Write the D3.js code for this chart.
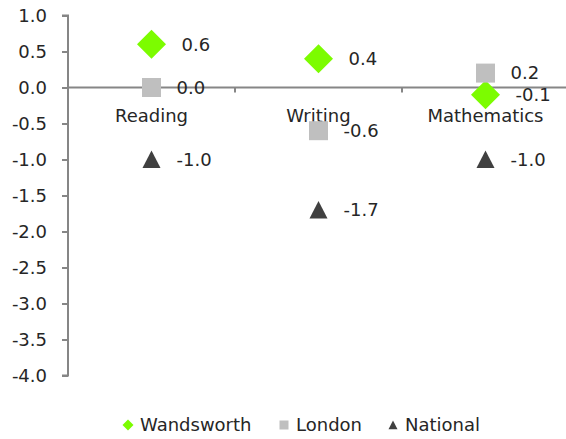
<!DOCTYPE html>
<html lang="en">
<head>
<meta charset="utf-8">
<title>Wandsworth vs London vs National</title>
<script src="https://d3js.org/d3.v7.min.js"></script>
<style>
    body { margin: 0; background: white; }
    text { font-family: "DejaVu Sans", sans-serif; fill: #262626; }
</style>
</head>
<body>
<svg id="chart" width="566" height="439"></svg>
<script>

    // data
    var subjects = ["Reading", "Writing", "Mathematics"];
    var wandsworth = [0.6, 0.4, -0.1];
    var london = [0.0, -0.6, 0.2];
    var national = [-1.0, -1.7, -1.0];
    var yTicks = [1.0, 0.5, 0.0, -0.5, -1.0, -1.5, -2.0, -2.5, -3.0, -3.5, -4.0];

    // marker shapes, r = half width
    function diamond(r) { return "M0," + (-r) + "L" + r + ",0L0," + r + "L" + (-r) + ",0Z"; }
    function square(r) { return "M" + (-r) + "," + (-r) + "H" + r + "V" + r + "H" + (-r) + "Z"; }
    function triangle(r) { return "M0," + (-r) + "L" + r + "," + (r * 0.95) + "H" + (-r) + "Z"; }

    var series = [
        {name: "Wandsworth", values: wandsworth, shape: diamond, r: 14.5, legendR: 5.5, color: "#7cfc00", labelDx: 30},
        {name: "London", values: london, shape: square, r: 9.5, legendR: 4.5, color: "#bfbfbf", labelDx: 25},
        {name: "National", values: national, shape: triangle, r: 9, legendR: 4.5, color: "#404040", labelDx: 25}
    ];

    var svg = d3.select("#chart");

    var x = d3.scaleBand().domain(subjects).range([68, 569]);
    var y = d3.scaleLinear().domain([-4, 1]).range([375.5, 15.5]);

    var fmt = function (d) { return d3.format(".1f")(d).replace("−", "-"); };

    // y axis
    var yAxis = svg.append("g")
        .attr("transform", "translate(68,0)")
        .call(d3.axisLeft(y).tickValues(yTicks).tickSize(6).tickPadding(15).tickFormat(fmt));
    yAxis.select(".domain").attr("stroke", "#868686").attr("stroke-width", 2)
        .attr("d", "M-6,15.5H0V375.5H-6");
    yAxis.selectAll(".tick line").attr("stroke", "#868686").attr("stroke-width", 2);
    yAxis.selectAll(".tick text").style("font-size", "18px").attr("fill", "#262626")
        .attr("font-family", null);

    // x axis line at zero with category boundary ticks
    svg.append("line")
        .attr("x1", 68).attr("x2", 569)
        .attr("y1", y(0)).attr("y2", y(0))
        .attr("stroke", "#868686").attr("stroke-width", 2);
    subjects.forEach(function (s) {
        var bx = x(s) + x.bandwidth();
        svg.append("line")
            .attr("x1", bx).attr("x2", bx)
            .attr("y1", y(0)).attr("y2", y(0) + 5)
            .attr("stroke", "#868686").attr("stroke-width", 2);
    });

    // category labels just below zero line
    svg.append("g").selectAll("text")
        .data(subjects)
        .enter()
        .append("text")
        .attr("x", d => x(d) + x.bandwidth() / 2)
        .attr("y", y(0) + 34)
        .attr("text-anchor", "middle")
        .style("font-size", "18px")
        .text(d => d);

    // markers and value labels
    series.forEach(function (s) {
        var g = svg.append("g");
        g.selectAll("path")
            .data(s.values)
            .enter()
            .append("path")
            .attr("d", s.shape(s.r))
            .attr("transform", (d, i) => "translate(" + (x(subjects[i]) + x.bandwidth() / 2) + "," + y(d) + ")")
            .attr("fill", s.color);
        g.selectAll("text")
            .data(s.values)
            .enter()
            .append("text")
            .attr("x", (d, i) => x(subjects[i]) + x.bandwidth() / 2 + s.labelDx)
            .attr("y", d => y(d))
            .attr("dy", "0.35em")
            .style("font-size", "18px")
            .text(fmt);
    });

    // legend
    var legendX = [128, 284, 393];
    var legend = svg.append("g").selectAll("g")
        .data(series)
        .enter()
        .append("g")
        .attr("transform", (d, i) => "translate(" + legendX[i] + ",425)");
    legend.append("path")
        .attr("d", d => d.shape(d.legendR))
        .attr("fill", d => d.color);
    legend.append("text")
        .attr("x", 12)
        .attr("dy", "0.35em")
        .style("font-size", "18px")
        .text(d => d.name);

</script>
</body>
</html>
